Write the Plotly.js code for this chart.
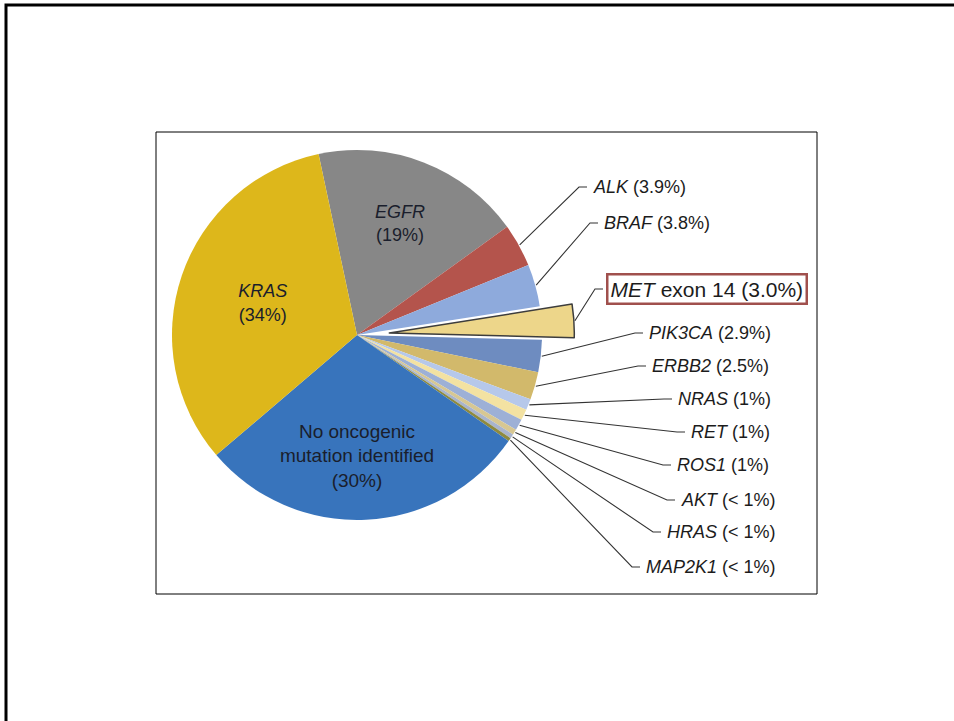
<!DOCTYPE html>
<html>
<head>
<meta charset="utf-8">
<script src="https://cdn.plot.ly/plotly-3.0.1.min.js"></script>
<style>html,body{margin:0;padding:0;background:#fff;}#chart{width:954px;height:721px;}</style>
</head>
<body>
<div id="chart"></div>
<script>
// ---- data ----
const labels = ['EGFR','ALK','BRAF','MET exon 14','PIK3CA','ERBB2','NRAS','RET','ROS1','AKT','HRAS','MAP2K1','No oncogenic mutation identified','KRAS'];
const values = [19, 3.9, 3.8, 3.0, 2.9, 2.5, 1, 1, 1, 0.5, 0.4, 0.3, 30, 34];
const pctText = ['19%','3.9%','3.8%','3.0%','2.9%','2.5%','1%','1%','1%','< 1%','< 1%','< 1%','30%','34%'];
const italicGene = [true,true,true,true,true,true,true,true,true,true,true,true,false,true];

// ---- styles / layout constants ----
const colors = ['#878787','#B4544C','#8EAADC','#EDD68A','#6E8CC0','#D2B96B','#B6C8EA','#F3E2A2','#9DB0D6','#D7C792','#A9B4CC','#8E8A3E','#3874BC','#DDB71B'];
const pulls  = [0,0,0,0.175,0,0,0,0,0,0,0,0,0,0];
const insideIdx = [0,12,13];
// label text anchor positions (px) for outside labels, by slice index
const labelPos = {1:[591,187],2:[602,223],3:[610,289],4:[647,333],5:[650,366],6:[676,399],7:[689,432],8:[675,465],9:[679,500],10:[665,532],11:[644,567]};

const W = 954, H = 721;
const px = p => p / W, py = p => 1 - p / H;
const cx = 357, cy = 335, r0 = 185, rotation = -12;
const maxPull = Math.max(...pulls);
const side = 2 * r0 * (1 + maxPull);
const r = side / (2 + 2 * maxPull);

function esc(s){ return s.replace(/</g,'&lt;'); }
const sliceText = labels.map((l,i) => {
  if (insideIdx.indexOf(i) < 0) return '';
  const name = l === 'No oncogenic mutation identified' ? 'No oncogenic<br>mutation identified' : l;
  return (italicGene[i] ? '<i>'+name+'</i>' : name) + '<br>(' + esc(pctText[i]) + ')';
});
const textPos = labels.map((l,i) => insideIdx.indexOf(i) < 0 ? 'none' : 'inside');
const textSize = labels.map((l,i) => i === 12 ? 19 : 18);

// mid-angles from data
const total = values.reduce((a,b)=>a+b,0);
let acc = 0;
const mids = values.map(v => { const m = rotation + (acc + v/2) / total * 360; acc += v; return m; });

const shapes = [
  {type:'rect', xref:'paper', yref:'paper', x0:px(6), x1:px(980), y0:py(745), y1:py(5), line:{color:'#000', width:3}},
  {type:'rect', xref:'paper', yref:'paper', x0:px(156), x1:px(817), y0:py(594), y1:py(132), line:{color:'#000', width:1}}
];
const annotations = [];
Object.keys(labelPos).forEach(k => {
  const i = +k;
  const a = mids[i] * Math.PI / 180;
  const rr = r * (1 + pulls[i]) + 1;
  const ax = cx + rr * Math.sin(a), ay = cy - rr * Math.cos(a);
  const [lx, ly] = labelPos[i];
  const endX = i === 3 ? lx - 7 : lx - 4;
  const elbowX = endX - 8;
  shapes.push({type:'path', xref:'paper', yref:'paper',
    path:'M '+px(ax)+' '+py(ay)+' L '+px(elbowX)+' '+py(ly)+' L '+px(endX)+' '+py(ly),
    line:{color:'#333', width:1.1}});
  const isMet = i === 3;
  const txt = isMet ? '<i>MET</i> exon 14 (3.0%)' : '<i>'+labels[i]+'</i> ('+esc(pctText[i])+')';
  const ann = {xref:'paper', yref:'paper', x:px(lx), y:py(ly), xanchor:'left', yanchor:'middle',
    text:txt, showarrow:false,
    font:{family:'Liberation Sans, Arial, sans-serif', size: isMet ? 21 : 18, color:'#1c1c1c'}};
  if (isMet) { ann.bordercolor = '#A0504D'; ann.borderwidth = 2.5; ann.borderpad = 2; ann.x = px(lx - 4); }
  annotations.push(ann);
});

const trace = {
  type:'pie', labels:labels, values:values, sort:false, direction:'clockwise', rotation:rotation,
  pull:pulls, text:sliceText, textinfo:'text', textposition:textPos,
  insidetextorientation:'horizontal',
  textfont:{family:'Liberation Sans, Arial, sans-serif', size:textSize, color:'#1a1e2c'},
  marker:{colors:colors, line:{color:labels.map((l,i)=>i===3?'#3d3d3d':'rgba(0,0,0,0)'), width:labels.map((l,i)=>i===3?1.5:0)}},
  domain:{x:[(cx-side/2)/W,(cx+side/2)/W], y:[1-(cy+side/2)/H, 1-(cy-side/2)/H]},
  hoverinfo:'label+value', showlegend:false
};

Plotly.newPlot('chart',[trace],{
  width:W, height:H, margin:{l:0,r:0,t:0,b:0},
  paper_bgcolor:'#fff', showlegend:false,
  shapes:shapes, annotations:annotations
},{displayModeBar:false, staticPlot:true});
</script>
</body>
</html>
